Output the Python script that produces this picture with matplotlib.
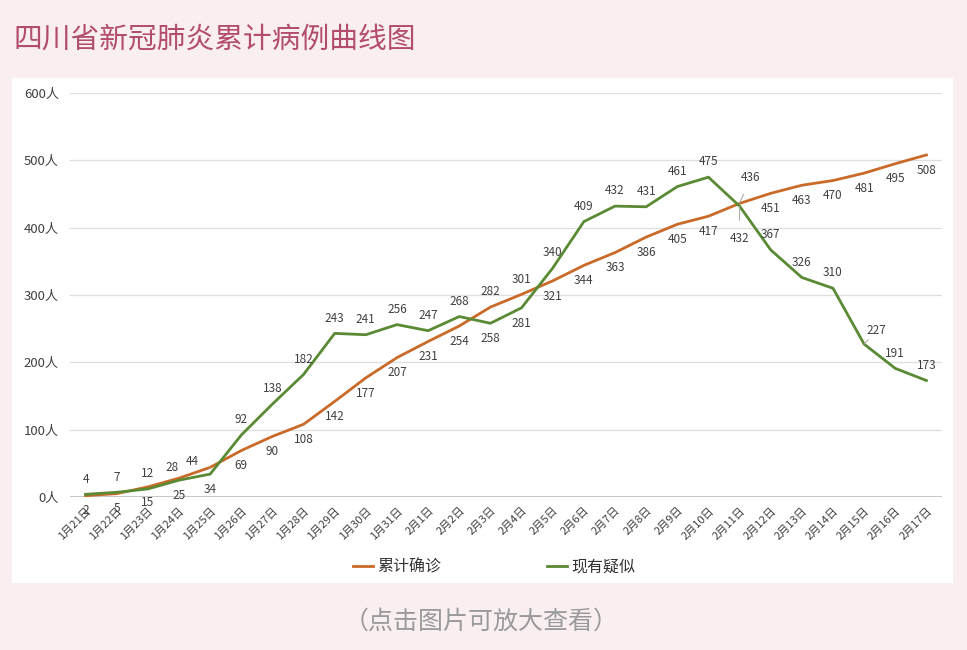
import matplotlib
matplotlib.use('Agg')
import matplotlib.pyplot as plt
from matplotlib.patches import Rectangle

plt.rcParams['font.family'] = ['Noto Sans CJK SC', 'DejaVu Sans']

# data
dates = ['1月21日', '1月22日', '1月23日', '1月24日', '1月25日', '1月26日', '1月27日',
         '1月28日', '1月29日', '1月30日', '1月31日', '2月1日', '2月2日', '2月3日',
         '2月4日', '2月5日', '2月6日', '2月7日', '2月8日', '2月9日', '2月10日',
         '2月11日', '2月12日', '2月13日', '2月14日', '2月15日', '2月16日', '2月17日']
confirmed = [2, 5, 15, 28, 44, 69, 90, 108, 142, 177, 207, 231, 254, 282,
             301, 321, 344, 363, 386, 405, 417, 436, 451, 463, 470, 481, 495, 508]
suspected = [4, 7, 12, 25, 34, 92, 138, 182, 243, 241, 256, 247, 268, 258,
             281, 340, 409, 432, 431, 461, 475, 432, 367, 326, 310, 227, 191, 173]
y_ticks = [0, 100, 200, 300, 400, 500, 600]

# label placement: a = above, b = below, anything else is a special offset (points)
confirmed_pos = ['b', 'b', 'b', 'A28', 'L44', 'b', 'b', 'b', 'b', 'b', 'b', 'b', 'b', 'a',
                 'a', 'b', 'b', 'b', 'b', 'b', 'b', 'L436', 'b', 'b', 'b', 'b', 'b', 'b']
suspected_pos = ['a', 'a', 'a', 'b', 'b', 'a', 'a', 'a', 'a', 'a', 'a', 'a', 'a', 'b',
                 'b', 'a', 'a', 'a', 'a', 'a', 'a', 'L432', 'a', 'a', 'a', 'L227', 'a', 'a']
special = {'A28': (-5, 8), 'L44': (-13, 4), 'L436': (8, 19), 'L432': (0, -23), 'L227': (9, 10)}

ORANGE = '#c96a28'
GREEN = '#5a8a34'

fig = plt.figure(figsize=(9.67, 6.5), dpi=100, facecolor='#f9eff1')
fig.patches.append(Rectangle((12 / 967, 1 - 583 / 650), 941 / 967, 505 / 650,
                             transform=fig.transFigure, facecolor='white',
                             edgecolor='none', zorder=-5))

ax = fig.add_axes([70 / 967, 1 - 497 / 650, 872 / 967, 404 / 650])
ax.set_facecolor('none')

x = list(range(len(dates)))
ax.plot(x, confirmed, color=ORANGE, lw=2, label='累计确诊', zorder=3)
ax.plot(x, suspected, color=GREEN, lw=2, label='现有疑似', zorder=3)


def put_labels(values, positions):
    for i, (v, p) in enumerate(zip(values, positions)):
        kw = dict(textcoords='offset points', ha='center', va='center',
                  fontsize=8.5, color='#404040')
        if p == 'a':
            ax.annotate(str(v), (i, v), xytext=(0, 11), **kw)
        elif p == 'b':
            ax.annotate(str(v), (i, v), xytext=(0, -11), **kw)
        elif p.startswith('A'):
            ax.annotate(str(v), (i, v), xytext=special[p], **kw)
        else:
            # labels pulled away from their point get a thin leader line
            ax.annotate(str(v), (i, v), xytext=special[p],
                        arrowprops=dict(arrowstyle='-', color='#a6a6a6', lw=0.7,
                                        shrinkA=6, shrinkB=0), **kw)


put_labels(confirmed, confirmed_pos)
put_labels(suspected, suspected_pos)

ax.set_xlim(-0.5, len(dates) - 0.5)
ax.set_ylim(0, 600)
ax.set_yticks(y_ticks)
ax.set_yticklabels([f'{t}人' for t in y_ticks], fontsize=9.5, color='#404040')
ax.set_xticks(x)
ax.set_xticklabels(dates, rotation=45, ha='right', va='top', rotation_mode='anchor',
                   fontsize=8, color='#404040')
ax.tick_params(axis='both', length=0)
ax.tick_params(axis='y', pad=8)
ax.tick_params(axis='x', pad=6)
ax.grid(axis='y', color='#dedede', lw=0.9)
ax.set_axisbelow(True)
for s in ax.spines.values():
    s.set_visible(False)
ax.axhline(0, color='#bfbfbf', lw=1.2, zorder=1)

leg = fig.legend(loc='center', bbox_to_anchor=(494 / 967, 1 - 567 / 650), ncol=2,
                 frameon=False, fontsize=11.5, handlelength=1.3, handletextpad=0.25,
                 columnspacing=6.6)
for t in leg.get_texts():
    t.set_color('#333333')

fig.text(14 / 967, 1 - 40 / 650, '四川省新冠肺炎累计病例曲线图', fontsize=20.7,
         color='#b34d6d', ha='left', va='center')
fig.text(481 / 967, 1 - 622 / 650, '（点击图片可放大查看）', fontsize=18,
         color='#9a9a9a', ha='center', va='center')

fig.savefig('out.png', dpi=100, facecolor=fig.get_facecolor())
